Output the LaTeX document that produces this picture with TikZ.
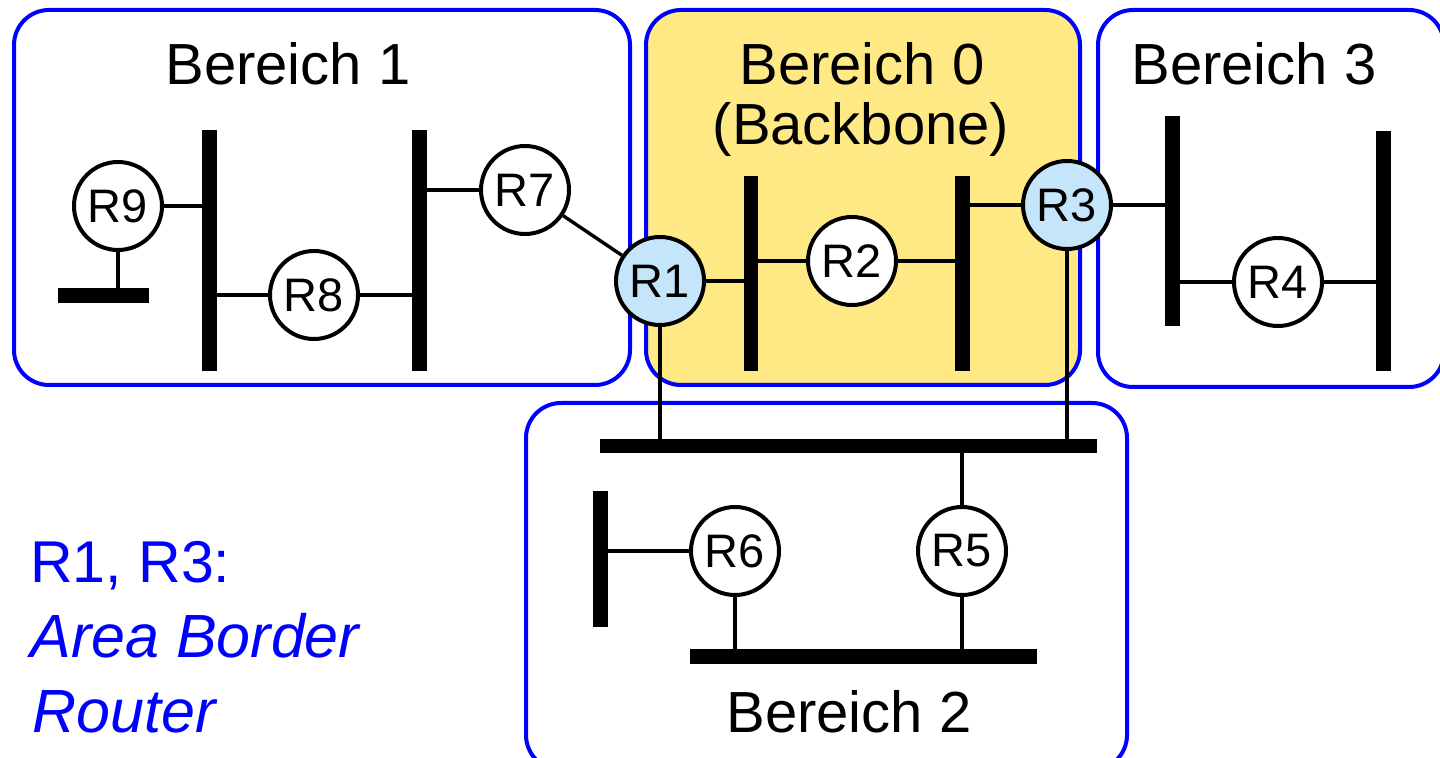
\documentclass[tikz,border=0pt]{standalone}
\usepackage{fontspec}
\setmainfont{Liberation Sans}
\definecolor{areablue}{RGB}{0,0,255}
\definecolor{bbyellow}{RGB}{255,233,133}
\definecolor{abrblue}{RGB}{197,229,250}
\begin{document}
\begin{tikzpicture}[x=0.5pt,y=-0.5pt,
  area/.style={draw=areablue, line width=2pt, rounded corners=17.5pt},
  router/.style={circle, draw=black, line width=2pt, fill=white, minimum size=44pt, inner sep=0pt, font=\fontsize{23.5}{28}\selectfont},
  abr/.style={router, fill=abrblue},
  bus/.style={rectangle, fill=black, draw=none, inner sep=0pt},
  link/.style={line width=1.7pt},
  title/.style={font=\fontsize{29}{35}\selectfont, anchor=base, inner sep=0pt},
  legend/.style={font=\fontsize{29.5}{35}\selectfont, text=areablue, anchor=base west, inner sep=0pt},
]
\useasboundingbox (0,0) rectangle (1440,758);
\clip (0,0) rectangle (1440,758);

% areas
\draw[area] (14,10) rectangle (630,385);
\draw[area, fill=bbyellow] (646,10) rectangle (1080,385);
\draw[area] (1098,10) rectangle (1444,387);
\draw[area] (526,403) rectangle (1127,770);

% titles
\node[title] (t1) at (288,85) {Bereich 1};
\node[title] (t0) at (862,85) {Bereich 0};
\node[title] (t0b) at (861,145) {(Backbone)};
\node[title] (t3) at (1254,85) {Bereich 3};
\node[title] (t2) at (849,732) {Bereich 2};

% legend
\node[legend] (l1) at (30,582) {R1, R3:};
\node[legend, font=\fontsize{30.5}{36}\selectfont\itshape] (l2) at (30,657) {Area Border};
\node[legend, font=\fontsize{30.5}{36}\selectfont\itshape] (l3) at (32,732) {Router};

% buses
\node[bus, minimum width=7.5pt, minimum height=120.5pt] (b1L) at (209.5,250.5) {};
\node[bus, minimum width=7.5pt, minimum height=120.5pt] (b1R) at (419.5,250.5) {};
\node[bus, minimum width=45.5pt, minimum height=7.5pt] (b9) at (103.5,295.5) {};
\node[bus, minimum width=7.25pt, minimum height=97.5pt] (b0L) at (751,273.5) {};
\node[bus, minimum width=7.25pt, minimum height=97.5pt] (b0R) at (962.5,273.5) {};
\node[bus, minimum width=7.5pt, minimum height=105pt] (b3L) at (1172.5,221) {};
\node[bus, minimum width=7.5pt, minimum height=120pt] (b3R) at (1383.5,251) {};
\node[bus, minimum width=248.5pt, minimum height=7pt] (b2T) at (848.5,446) {};
\node[bus, minimum width=7.5pt, minimum height=68pt] (b2L) at (600.5,559) {};
\node[bus, minimum width=173.5pt, minimum height=7.5pt] (b2B) at (863.5,656.5) {};

% routers
\node[router] (R9) at (118,206) {R9};
\node[router] (R8) at (314,295) {R8};
\node[router] (R7) at (525,190) {R7};
\node[abr] (R1) at (660,281) {R1};
\node[router] (R2) at (852,261) {R2};
\node[abr] (R3) at (1067,205) {R3};
\node[router] (R4) at (1278,282) {R4};
\node[router] (R6) at (735,551) {R6};
\node[router] (R5) at (962,551) {R5};

% links
\draw[link] (R9) -- (R9 -| b1L);
\draw[link] (R9) -- (R9 |- b9);
\draw[link] (b1L |- R8) -- (R8);
\draw[link] (R8) -- (R8 -| b1R);
\draw[link] (b1R |- R7) -- (R7);
\draw[link] (R7) -- (R1);
\draw[link] (R1) -- (R1 -| b0L);
\draw[link] (R1) -- (R1 |- b2T);
\draw[link] (b0L |- R2) -- (R2);
\draw[link] (R2) -- (R2 -| b0R);
\draw[link] (b0R |- R3) -- (R3);
\draw[link] (R3) -- (R3 -| b3L);
\draw[link] (R3) -- (R3 |- b2T);
\draw[link] (b3L |- R4) -- (R4);
\draw[link] (R4) -- (R4 -| b3R);
\draw[link] (R5) -- (R5 |- b2T);
\draw[link] (R5) -- (R5 |- b2B);
\draw[link] (b2L |- R6) -- (R6);
\draw[link] (R6) -- (R6 |- b2B);
\end{tikzpicture}
\end{document}
